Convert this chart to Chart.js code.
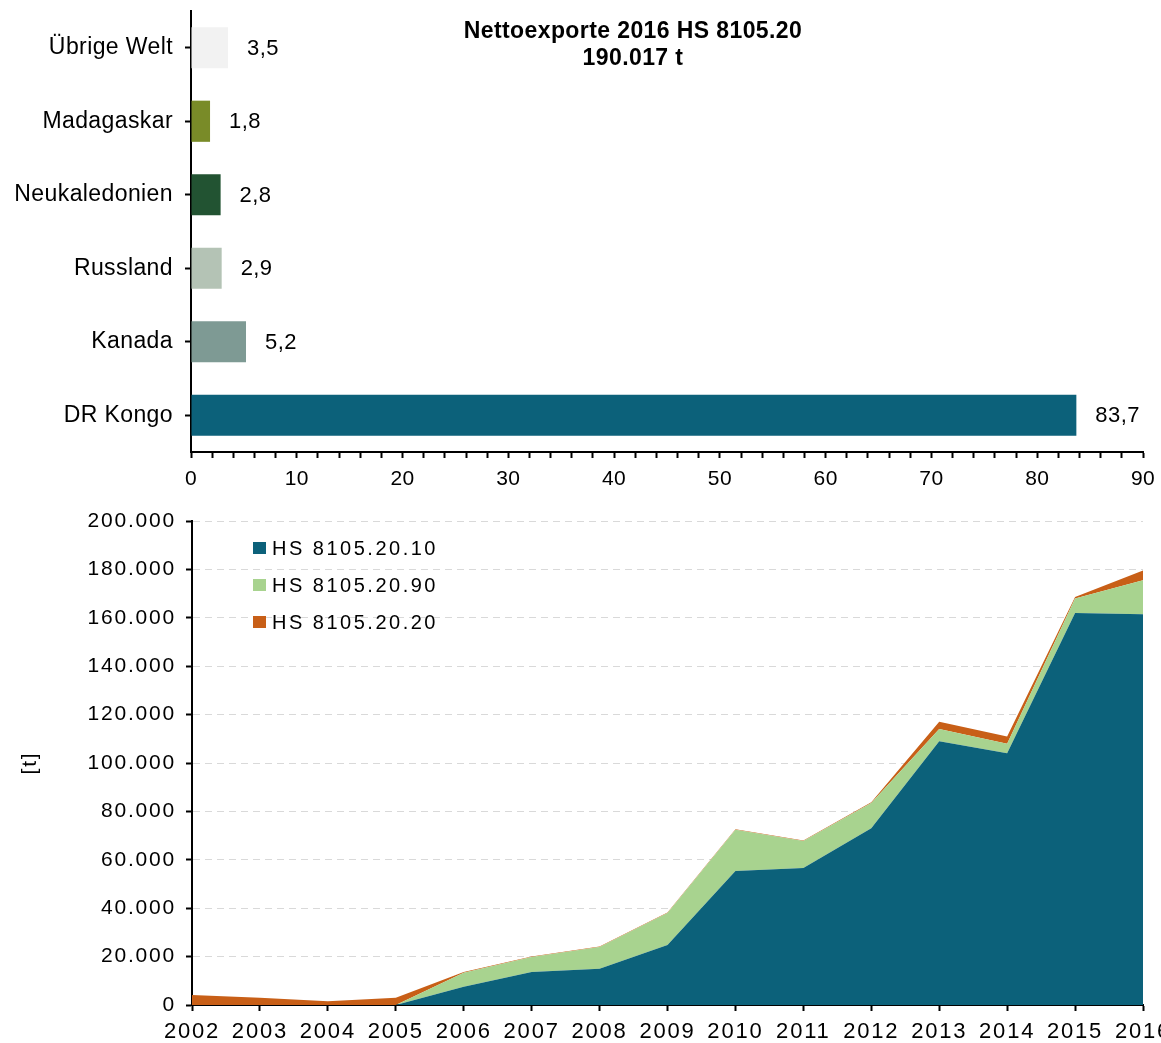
<!DOCTYPE html>
<html lang="de">
<head>
<meta charset="UTF-8">
<title>Nettoexporte 2016 HS 8105.20</title>
<script src="https://cdn.jsdelivr.net/npm/chart.js@4.4.1/dist/chart.umd.min.js"></script>
<style>
  html, body { margin: 0; padding: 0; background: #fff; overflow: hidden; }
  canvas { position: absolute; left: 0; }
  #top { top: 0; }
  #bottom { top: 500px; }
</style>
</head>
<body>
<canvas id="top" width="1161" height="500"></canvas>
<canvas id="bottom" width="1161" height="543"></canvas>
<script>
// Anteile der Länder an den Nettoexporten 2016 in %
const laender = ['Übrige Welt', 'Madagaskar', 'Neukaledonien', 'Russland', 'Kanada', 'DR Kongo'];
const anteile = [3.5, 1.8, 2.8, 2.9, 5.2, 83.7];
const laenderFarben = ['#f2f2f2', '#798b28', '#225332', '#b4c3b5', '#7e9a94', '#0c617a'];
const titelZeilen = ['Nettoexporte 2016 HS 8105.20', '190.017 t'];

// Nettoexporte nach Jahren in t
const jahre = ['2002', '2003', '2004', '2005', '2006', '2007', '2008', '2009', '2010', '2011', '2012', '2013', '2014', '2015', '2016'];
const hs10 = [0, 0, 0, 0, 7500, 13600, 15000, 24800, 55400, 56600, 73000, 109000, 104000, 162000, 161500];
const hs90 = [0, 0, 0, 0, 5800, 6200, 9000, 13200, 17000, 11200, 10500, 5000, 4000, 6000, 14000];
const hs20 = [4100, 3000, 1500, 3000, 300, 200, 200, 200, 200, 200, 300, 3000, 3000, 600, 4000];
const serienNamen = ['HS 8105.20.10', 'HS 8105.20.90', 'HS 8105.20.20'];
const serienFarben = ['#0c617a', '#a8d38f', '#c85f17'];

const schrift = '"Liberation Sans", Arial, sans-serif';
const schwarz = '#000';

// Excel-Schrift wirkt breiter, daher etwas Zeichenabstand
function abstand(px) {
    return {
        id: 'abstand',
        beforeUpdate(chart) { chart.ctx.letterSpacing = px + 'px'; },
        beforeDraw(chart) { chart.ctx.letterSpacing = px + 'px'; }
    };
}

// keine automatische Randzugabe durch die Achsenbeschriftung
function ohneRand(breite, hoehe) {
    return s => {
        if (breite) s.width = breite;
        if (hoehe) s.height = hoehe;
        s.paddingTop = 0;
        s.paddingBottom = 0;
        s.paddingLeft = 0;
        s.paddingRight = 0;
    };
}

const titel = {
    id: 'titel',
    afterDraw(chart) {
        const ctx = chart.ctx;
        ctx.save();
        ctx.font = 'bold 23px ' + schrift;
        ctx.fillStyle = schwarz;
        ctx.textAlign = 'center';
        ctx.textBaseline = 'middle';
        ctx.fillText(titelZeilen[0], 633, 32);
        ctx.fillText(titelZeilen[1], 633, 59);
        ctx.restore();
    }
};

const werte = {
    id: 'werte',
    afterDatasetsDraw(chart) {
        const ctx = chart.ctx;
        const meta = chart.getDatasetMeta(0);
        ctx.save();
        ctx.font = '22px ' + schrift;
        ctx.fillStyle = schwarz;
        ctx.textAlign = 'left';
        ctx.textBaseline = 'middle';
        meta.data.forEach((bar, i) => {
            ctx.fillText(anteile[i].toFixed(1).replace('.', ','), bar.x + 19, bar.y + 1);
        });
        ctx.restore();
    }
};

new Chart(document.getElementById('top'), {
    type: 'bar',
    data: {
        labels: laender,
        datasets: [{
            data: anteile,
            backgroundColor: laenderFarben,
            categoryPercentage: 1,
            barPercentage: 0.56
        }]
    },
    options: {
        indexAxis: 'y',
        responsive: false,
        animation: false,
        layout: { autoPadding: false, padding: { top: 11, right: 18, left: 0, bottom: 0 } },
        plugins: { legend: { display: false }, tooltip: { enabled: false } },
        scales: {
            x: {
                min: 0,
                max: 90,
                afterFit: ohneRand(0, 48),
                border: { color: '#000', width: 2 },
                grid: { drawOnChartArea: false, tickLength: 6, tickColor: '#000', tickWidth: 2 },
                ticks: {
                    stepSize: 2,
                    autoSkip: false,
                    maxRotation: 0,
                    padding: 9,
                    color: schwarz,
                    font: { family: schrift, size: 21 },
                    callback: v => (v % 10 === 0 ? v : '')
                }
            },
            y: {
                afterFit: ohneRand(191, 0),
                border: { color: '#000', width: 2 },
                grid: { offset: false, drawOnChartArea: false, tickLength: 6, tickColor: '#000', tickWidth: 2 },
                ticks: { padding: 12, color: schwarz, font: { family: schrift, size: 23 } }
            }
        }
    },
    plugins: [abstand(0.4), titel, werte]
});

const legende = {
    id: 'legende',
    afterDraw(chart) {
        const ctx = chart.ctx;
        const x = chart.chartArea.left + 61;
        ctx.save();
        ctx.letterSpacing = '2.5px';
        ctx.font = '20px ' + schrift;
        ctx.textBaseline = 'middle';
        ctx.textAlign = 'left';
        chart.data.datasets.forEach((ds, i) => {
            const y = 48 + i * 37;
            ctx.fillStyle = ds.backgroundColor;
            ctx.fillRect(x, y - 6, 13, 12);
            ctx.fillStyle = schwarz;
            ctx.fillText(ds.label, x + 19, y + 1);
        });
        ctx.restore();
    }
};

const tausender = v => String(v).replace(/\B(?=(\d{3})+(?!\d))/g, '.');

new Chart(document.getElementById('bottom'), {
    type: 'line',
    data: {
        labels: jahre,
        datasets: [
            { label: serienNamen[0], data: hs10, fill: 'origin' },
            { label: serienNamen[1], data: hs90, fill: '-1' },
            { label: serienNamen[2], data: hs20, fill: '-1' }
        ].map((ds, i) => Object.assign(ds, {
            backgroundColor: serienFarben[i],
            borderColor: serienFarben[i],
            borderWidth: 0,
            pointRadius: 0,
            tension: 0
        }))
    },
    options: {
        responsive: false,
        animation: false,
        layout: { autoPadding: false, padding: { top: 21, right: 18, left: 0, bottom: 0 } },
        plugins: { legend: { display: false }, tooltip: { enabled: false } },
        scales: {
            x: {
                afterFit: ohneRand(0, 38),
                border: { color: '#000', width: 2 },
                grid: { drawOnChartArea: false, tickLength: 6, tickColor: '#000', tickWidth: 2 },
                ticks: {
                    autoSkip: false,
                    maxRotation: 0,
                    padding: 8,
                    color: schwarz,
                    font: { family: schrift, size: 22 }
                }
            },
            y: {
                stacked: true,
                min: 0,
                max: 200000,
                afterFit: ohneRand(192, 0),
                border: { color: '#000', width: 2, dash: [7, 5] },
                grid: { color: '#d9d9d9', lineWidth: 1, tickLength: 6, tickColor: '#000', tickWidth: 2, tickBorderDash: [] },
                title: {
                    display: true,
                    text: '[t]',
                    color: schwarz,
                    font: { family: schrift, size: 21 },
                    padding: { top: 18, bottom: 0 }
                },
                ticks: {
                    stepSize: 20000,
                    padding: 10,
                    color: schwarz,
                    font: { family: schrift, size: 21 },
                    callback: v => tausender(v)
                }
            }
        }
    },
    plugins: [abstand(1.8), legende]
});
</script>
</body>
</html>
